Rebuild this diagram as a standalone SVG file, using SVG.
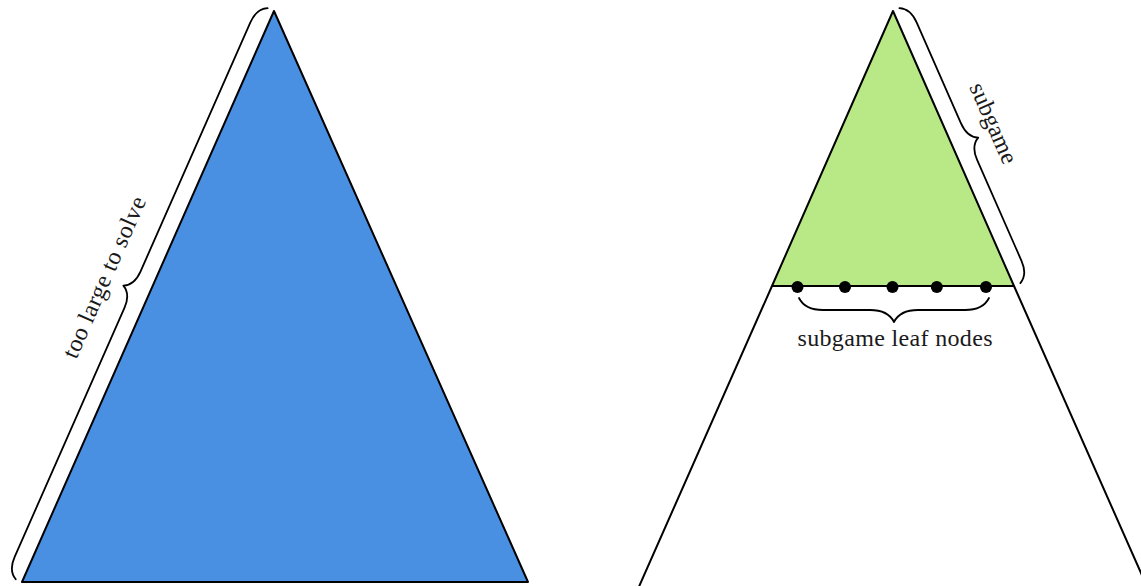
<svg xmlns="http://www.w3.org/2000/svg" width="1141" height="586" viewBox="0 0 1141 586">
<style>
.edge{stroke:#000;stroke-width:2;stroke-linejoin:round}
.line{fill:none;stroke:#000;stroke-width:2}
.blue{fill:#4a90e2}
.green{fill:#b8e986}
.brace{fill:none;stroke:#000;stroke-width:1.8;stroke-linecap:round;stroke-linejoin:round}
.lbl{font-family:"Liberation Serif","DejaVu Serif",serif;font-size:24px;fill:#1a1a1a}
.dot{fill:#000}
</style>
<rect width="1141" height="586" fill="#fff"/>
<g id="full-tree">
<polygon points="274,11 22,582 528,582" class="edge blue"/>
</g>
<g id="brace-full">
<path class="brace" transform="translate(274,11) rotate(113.8)" d="M0,7 C3,13 10,17 20,17 L292.05,17 C302.05,17 309.05,21 312.05,27 C315.05,21 322.05,17 332.05,17 L604.1,17 C614.1,17 621.1,13 624.1,7"/>
<text class="lbl" transform="translate(111.4,280.3) rotate(-66.2)" text-anchor="middle" textLength="174" lengthAdjust="spacing">too large to solve</text>
</g>
<g id="outer-tree">
<path class="line" d="M772,286 L637.5,590 M1014,286 L1148.5,590"/>
</g>
<g id="subgame">
<polygon points="893,11 772,286 1014,286" class="edge green"/>
</g>
<g id="brace-subgame">
<path class="brace" transform="translate(893,11) rotate(66.25)" d="M0,-7 C3,-13 10,-17 20,-17 L130.2,-17 C140.2,-17 147.2,-21 150.2,-27 C153.2,-21 160.2,-17 170.2,-17 L280.4,-17 C290.4,-17 297.4,-13 300.4,-7"/>
<text class="lbl" transform="translate(986.4,126.4) rotate(66.25)" text-anchor="middle" textLength="86" lengthAdjust="spacing">subgame</text>
</g>
<g id="leaf-nodes">
<circle class="dot" cx="797.5" cy="287" r="6"/>
<circle class="dot" cx="845" cy="287" r="6"/>
<circle class="dot" cx="892.5" cy="287" r="6"/>
<circle class="dot" cx="936.8" cy="287" r="6"/>
<circle class="dot" cx="986" cy="287" r="6"/>
</g>
<g id="brace-leaves">
<path class="brace" d="M799,298 C802.6,305.2 811,310 823,310 L870,310 C882,310 890.4,314.8 894,322 C897.6,314.8 906,310 918,310 L965,310 C977,310 985.4,305.2 989,298"/>
<text class="lbl" x="895" y="346" text-anchor="middle" textLength="195" lengthAdjust="spacing">subgame leaf nodes</text>
</g>
</svg>
